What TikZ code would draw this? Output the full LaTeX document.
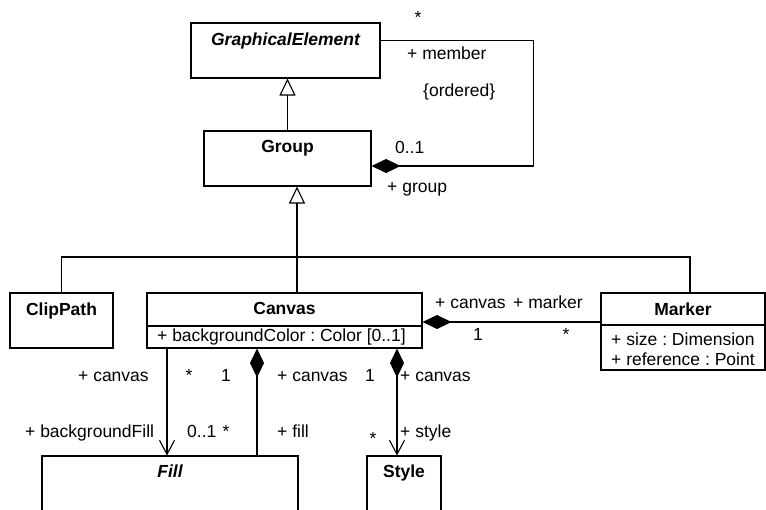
\documentclass[tikz,border=0pt]{standalone}
\usepackage{fontspec}
\setmainfont{Liberation Sans}
\usetikzlibrary{arrows.meta,positioning}

\newcommand{\umlfont}{\fontsize{17.5}{20}\selectfont\frenchspacing}

\tikzstyle{cls} = [draw, rectangle, line width=1.1pt, inner sep=0pt]
\tikzstyle{title} = [font=\umlfont\bfseries, inner sep=0pt]
\tikzstyle{ititle} = [font=\umlfont\bfseries\itshape, inner sep=0pt]
\tikzstyle{lbl} = [font=\umlfont, inner sep=0pt, anchor=base west]
\tikzstyle{mult} = [font=\umlfont, inner sep=0pt, anchor=base]
\tikzstyle{line} = [line width=1.1pt]
\tikzstyle{gen} = [line, -{Triangle[open, length=17pt, width=16pt]}]
\tikzstyle{compo} = [line, {Diamond[length=29pt, width=14pt]}-]
\tikzstyle{nav} = [line, -{Straight Barb[length=14pt, width=15pt]}]
\tikzstyle{compnav} = [line, {Diamond[length=29pt, width=14pt]}-{Straight Barb[length=14pt, width=15pt]}]

\begin{document}
\begin{tikzpicture}[x=1pt, y=-1pt]
\clip (0,0) rectangle (766,509);
\fill[white] (0,0) rectangle (766,509);

\node[cls, minimum width=189pt, minimum height=55pt] (ge) at (285.5,50.5) {};
\node[ititle, below=10pt of ge.north] (getitle) {GraphicalElement};
\node[cls, minimum width=167pt, minimum height=55pt] (group) at (287.5,158.5) {};
\node[title, below=10pt of group.north] (grouptitle) {Group};
\node[cls, minimum width=103pt, minimum height=55pt] (clip) at (61.5,320.5) {};
\node[title, below=10pt of clip.north] (cliptitle) {ClipPath};
\node[cls, minimum width=275pt, minimum height=55pt] (canvas) at (284.5,320.5) {};
\node[title, below=10pt of canvas.north] (canvastitle) {Canvas};
\node[lbl] (canvasattr) at (157,341) {+ backgroundColor : Color [0..1]};
\node[cls, minimum width=164pt, minimum height=77pt] (marker) at (683,331.5) {};
\node[title, below=10pt of marker.north] (markertitle) {Marker};
\node[lbl] (markersize) at (611,345) {+ size : Dimension};
\node[lbl] (markerref) at (611,365) {+ reference : Point};
\node[cls, minimum width=256pt, minimum height=74pt] (fill) at (170,493) {};
\node[ititle, below=9pt of fill.north] (filltitle) {Fill};
\node[cls, minimum width=74pt, minimum height=74pt] (style) at (404,493) {};
\node[title, below=9pt of style.north] (styletitle) {Style};

\draw[line] (canvas.west |- 0,326) -- (canvas.east |- 0,326);
\draw[line] (marker.west |- 0,325) -- (marker.east |- 0,325);

\draw[gen] (group.north) -- (group.north |- ge.south);
\draw[compo] ([yshift=-7.5pt]group.east) -- ++(162,0) |- ([yshift=-18pt]ge.north east);

\coordinate (join) at (297,257);
\draw[gen] (join) -- (join |- group.south);
\draw[line] (clip.north) |- (join) -| ([xshift=7pt]marker.north);
\draw[line] (join) -- (join |- canvas.north);

\draw[compo] ([yshift=-1.5pt]canvas.east) -- ([yshift=-1.5pt]canvas.east -| marker.west);
\draw[nav] ([xshift=-3pt]fill.north |- canvas.south) -- ([xshift=-3pt]fill.north);
\draw[compo] ([xshift=87pt]fill.north |- canvas.south) -- ([xshift=87pt]fill.north);
\draw[compnav] ([xshift=-7pt]style.north |- canvas.south) -- ([xshift=-7pt]style.north);

\node[mult] (mstar) at (418,23) {*};
\node[lbl] (lmember) at (407,59) {+ member};
\node[lbl] (lordered) at (423,96) {\{ordered\}};
\node[lbl] (lgroupmult) at (395,153) {0..1};
\node[lbl] (lgroup) at (387,192) {+ group};

\node[lbl] (lcanvasm) at (435,308) {+ canvas};
\node[lbl] (lmarker) at (513,308) {+ marker};
\node[mult] (mcanvasm) at (478,340) {1};
\node[mult] (mmarker) at (566,340) {*};

\node[lbl] (lcanvasbg) at (78,381) {+ canvas};
\node[mult] (mcanvasbg) at (189,381) {*};
\node[mult] (mcanvasfill) at (226,381) {1};
\node[lbl] (lcanvasfill) at (277,381) {+ canvas};
\node[mult] (mcanvasst) at (370,381) {1};
\node[lbl] (lcanvasst) at (400,381) {+ canvas};
\node[lbl] (lbgfill) at (25,437) {+ backgroundFill};
\node[lbl] (mbgfill) at (187,437) {0..1};
\node[mult] (mfill) at (226,437) {*};
\node[lbl] (lfill) at (277,437) {+ fill};
\node[mult] (mstyle) at (373,444) {*};
\node[lbl] (lstyle) at (400,437) {+ style};
\end{tikzpicture}
\end{document}
